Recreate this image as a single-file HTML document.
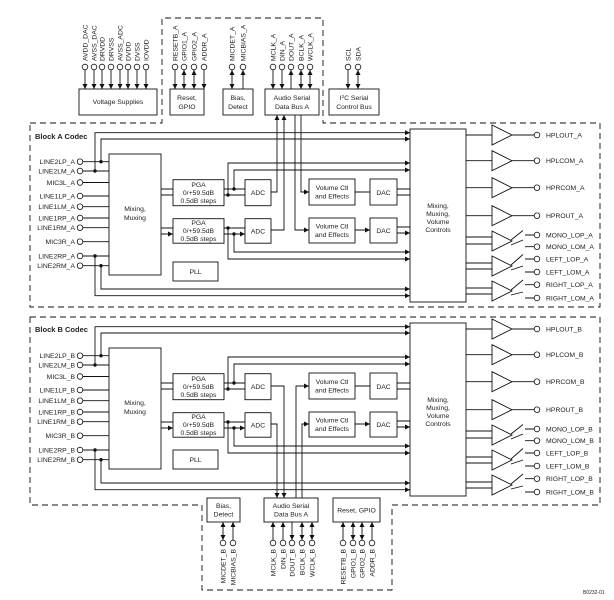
<!DOCTYPE html>
<html><head><meta charset="utf-8"><style>
html,body{margin:0;padding:0;background:#fff;}
svg{display:block;font-family:"Liberation Sans",sans-serif;}
text{font-size:6.8px;fill:#222;}
.l{stroke:#111;stroke-width:0.9;fill:none;}
.b{stroke:#111;stroke-width:0.9;fill:#fff;}
.d{stroke:#111;stroke-width:0.9;fill:none;stroke-dasharray:6,4;}
.p{stroke:#111;stroke-width:0.8;fill:#fff;}
.a{marker-end:url(#ar);}
.aa{marker-end:url(#ar);marker-start:url(#ar);}
.s{marker-start:url(#ar);}
</style></head><body>
<svg width="614" height="600" viewBox="0 0 614 600" xmlns="http://www.w3.org/2000/svg">
<defs>
<marker id="ar" viewBox="0 0 6 6" refX="6" refY="3" markerUnits="userSpaceOnUse" markerWidth="5" markerHeight="5" orient="auto-start-reverse"><path d="M0,0L6,3L0,6z" fill="#111"/></marker>
</defs>
<rect width="614" height="600" fill="#fff"/>

<!-- ===== Top section ===== -->
<path class="d" d="M30,123H162V18H323V123H600V307H30Z"/>
<rect class="b" x="79" y="89" width="78" height="26"/>
<text x="118" y="104" text-anchor="middle">Voltage Supplies</text>
<rect class="b" x="170" y="89" width="34" height="26"/>
<text x="187" y="100" text-anchor="middle">Reset,</text><text x="187" y="109" text-anchor="middle">GPIO</text>
<rect class="b" x="223" y="89" width="30" height="26"/>
<text x="238" y="100" text-anchor="middle">Bias,</text><text x="238" y="109" text-anchor="middle">Detect</text>
<rect class="b" x="265" y="89" width="54" height="26"/>
<text x="292" y="100" text-anchor="middle">Audio Serial</text><text x="292" y="109" text-anchor="middle">Data Bus A</text>
<rect class="b" x="329" y="89" width="50" height="26"/>
<text x="354" y="100" text-anchor="middle">I<tspan font-size="4.5" dy="-2">2</tspan><tspan dy="2">C Serial</tspan></text><text x="354" y="109" text-anchor="middle">Control Bus</text>

<!-- top pins -->
<g>
<path class="l a" d="M85,70V89"/><path class="l a" d="M94,70V89"/><path class="l a" d="M102,70V89"/><path class="l a" d="M111,70V89"/>
<path class="l a" d="M120,70V89"/><path class="l a" d="M128,70V89"/><path class="l a" d="M137,70V89"/><path class="l a" d="M146,70V89"/>
<path class="l a" d="M175,70V89"/><path class="l aa" d="M184,70V89"/><path class="l aa" d="M194,70V89"/><path class="l a" d="M204,70V89"/>
<path class="l aa" d="M232,70V89"/><path class="l s" d="M243,70V89"/>
<path class="l a" d="M273,70V89"/><path class="l a" d="M282,70V89"/><path class="l s" d="M291,70V89"/><path class="l aa" d="M301,70V89"/><path class="l aa" d="M310,70V89"/>
<path class="l a" d="M348,70V89"/><path class="l aa" d="M358,70V89"/>
<g class="p">
<circle cx="85" cy="67" r="2.8"/><circle cx="94" cy="67" r="2.8"/><circle cx="102" cy="67" r="2.8"/><circle cx="111" cy="67" r="2.8"/>
<circle cx="120" cy="67" r="2.8"/><circle cx="128" cy="67" r="2.8"/><circle cx="137" cy="67" r="2.8"/><circle cx="146" cy="67" r="2.8"/>
<circle cx="175" cy="67" r="2.8"/><circle cx="184" cy="67" r="2.8"/><circle cx="194" cy="67" r="2.8"/><circle cx="204" cy="67" r="2.8"/>
<circle cx="232" cy="67" r="2.8"/><circle cx="243" cy="67" r="2.8"/>
<circle cx="273" cy="67" r="2.8"/><circle cx="282" cy="67" r="2.8"/><circle cx="291" cy="67" r="2.8"/><circle cx="301" cy="67" r="2.8"/><circle cx="310" cy="67" r="2.8"/>
<circle cx="348" cy="67" r="2.8"/><circle cx="358" cy="67" r="2.8"/>
</g>
<text transform="translate(87.5,61) rotate(-90)">AVDD_DAC</text>
<text transform="translate(96.5,61) rotate(-90)">AVSS_DAC</text>
<text transform="translate(104.5,61) rotate(-90)">DRVDD</text>
<text transform="translate(113.5,61) rotate(-90)">DRVSS</text>
<text transform="translate(122.5,61) rotate(-90)">AVSS_ADC</text>
<text transform="translate(130.5,61) rotate(-90)">DVDD</text>
<text transform="translate(139.5,61) rotate(-90)">DVSS</text>
<text transform="translate(148.5,61) rotate(-90)">IOVDD</text>
<text transform="translate(177.5,61) rotate(-90)">RESETB_A</text>
<text transform="translate(186.5,61) rotate(-90)">GPIO1_A</text>
<text transform="translate(196.5,61) rotate(-90)">GPIO2_A</text>
<text transform="translate(206.5,61) rotate(-90)">ADDR_A</text>
<text transform="translate(234.5,61) rotate(-90)">MICDET_A</text>
<text transform="translate(245.5,61) rotate(-90)">MICBIAS_A</text>
<text transform="translate(275.5,61) rotate(-90)">MCLK_A</text>
<text transform="translate(284.5,61) rotate(-90)">DIN_A</text>
<text transform="translate(293.5,61) rotate(-90)">DOUT_A</text>
<text transform="translate(303.5,61) rotate(-90)">BCLK_A</text>
<text transform="translate(312.5,61) rotate(-90)">WCLK_A</text>
<text transform="translate(350.5,61) rotate(-90)">SCL</text>
<text transform="translate(360.5,61) rotate(-90)">SDA</text>
</g>

<!-- ===== Block A ===== -->
<g>
<text x="35" y="139" font-weight="bold" style="font-size:7.5px">Block A Codec</text>
<g text-anchor="end">
<text x="75" y="164">LINE2LP_A</text><text x="75" y="173.5">LINE2LM_A</text><text x="75" y="185">MIC3L_A</text>
<text x="75" y="198.5">LINE1LP_A</text><text x="75" y="209">LINE1LM_A</text><text x="75" y="220.5">LINE1RP_A</text>
<text x="75" y="230">LINE1RM_A</text><text x="75" y="244">MIC3R_A</text><text x="75" y="258.5">LINE2RP_A</text><text x="75" y="268">LINE2RM_A</text>
</g>
<path class="l" d="M83,161.7H109M83,171H109M83,182.5H109M83,196H109M83,206.7H109M83,218H109M83,227.7H109M83,241.7H109M83,256H109M83,265.7H109"/>
<g class="p"><circle cx="80" cy="161.7" r="2.8"/><circle cx="80" cy="171" r="2.8"/><circle cx="80" cy="182.5" r="2.8"/><circle cx="80" cy="196" r="2.8"/><circle cx="80" cy="206.7" r="2.8"/><circle cx="80" cy="218" r="2.8"/><circle cx="80" cy="227.7" r="2.8"/><circle cx="80" cy="241.7" r="2.8"/><circle cx="80" cy="256" r="2.8"/><circle cx="80" cy="265.7" r="2.8"/></g>
<path class="l a" d="M101,161.7V139H410"/><path class="l a" d="M95,171V132.7H410"/>
<path class="l a" d="M95,256V295.7H410"/><path class="l a" d="M101,265.7V289H410"/>
<g fill="#111"><circle cx="101" cy="161.7" r="1.7"/><circle cx="95" cy="171" r="1.7"/><circle cx="95" cy="256" r="1.7"/><circle cx="101" cy="265.7" r="1.7"/>
<circle cx="234" cy="189" r="1.7"/><circle cx="228" cy="195" r="1.7"/><circle cx="228" cy="228" r="1.7"/><circle cx="234" cy="234" r="1.7"/></g>
<rect class="b" x="109" y="154" width="52" height="121"/>
<text x="135" y="211" text-anchor="middle">Mixing,</text><text x="135" y="220" text-anchor="middle">Muxing</text>
<path class="l a" d="M161,189H173M161,195H173M161,228H173M161,234H173"/>
<rect class="b" x="173" y="179.7" width="51" height="26"/>
<text x="198.5" y="187" text-anchor="middle">PGA</text><text x="198.5" y="195" text-anchor="middle">0/+59.5dB</text><text x="198.5" y="203" text-anchor="middle">0.5dB steps</text>
<rect class="b" x="173" y="218.7" width="51" height="24.5"/>
<text x="198.5" y="225" text-anchor="middle">PGA</text><text x="198.5" y="233" text-anchor="middle">0/+59.5dB</text><text x="198.5" y="241" text-anchor="middle">0.5dB steps</text>
<rect class="b" x="173" y="262" width="45" height="19"/><text x="195.5" y="274" text-anchor="middle">PLL</text>
<path class="l a" d="M224,189H245M224,195H245M224,228H245M224,234H245"/>
<path class="l a" d="M228,195V163H410"/><path class="l a" d="M234,189V170H410"/>
<path class="l a" d="M228,228V259H410"/><path class="l a" d="M234,234V252H410"/>
<rect class="b" x="245" y="179.7" width="26" height="26"/><text x="258" y="195" text-anchor="middle">ADC</text>
<rect class="b" x="245" y="218.7" width="26" height="24.5"/><text x="258" y="233.5" text-anchor="middle">ADC</text>
<path class="l a" d="M271,192H277V115"/><path class="l a" d="M271,230H284V115"/>
<path class="l a" d="M301,115V192H309"/><path class="l a" d="M295,115V230H309"/>
<rect class="b" x="309" y="179" width="46" height="26"/><text x="332" y="190" text-anchor="middle">Volume Ctl</text><text x="332" y="198.5" text-anchor="middle">and Effects</text>
<rect class="b" x="309" y="218" width="46" height="25"/><text x="332" y="228.5" text-anchor="middle">Volume Ctl</text><text x="332" y="237" text-anchor="middle">and Effects</text>
<path class="l a" d="M355,192H370M355,230H370"/>
<rect class="b" x="370" y="179" width="27" height="26"/><text x="383.5" y="195" text-anchor="middle">DAC</text>
<rect class="b" x="370" y="218" width="27" height="25"/><text x="383.5" y="233" text-anchor="middle">DAC</text>
<path class="l a" d="M397,189H410M397,195H410M397,227H410M397,233H410"/>
<rect class="b" x="410" y="129" width="56" height="173"/>
<text x="438" y="208" text-anchor="middle">Mixing,</text><text x="438" y="216" text-anchor="middle">Muxing,</text><text x="438" y="224" text-anchor="middle">Volume</text><text x="438" y="232" text-anchor="middle">Controls</text>
<path class="l" d="M466,135H492M466,160.7H492M466,187.7H492M466,215.7H492M512,135H534M512,160.7H534M512,187.7H534M512,215.7H534M466,237H492M466,244H492M466,263H492M466,269H492M466,288H492M466,294H492"/>
<g class="b"><polygon points="492,125 512,135 492,145"/><polygon points="492,150.7 512,160.7 492,170.7"/><polygon points="492,177.7 512,187.7 492,197.7"/><polygon points="492,205.7 512,215.7 492,225.7"/>
<polygon points="492,231 512,241 492,251"/><polygon points="492,256 512,266 492,276"/><polygon points="492,281 512,291 492,301"/></g>
<path class="l" d="M511,240L523,230.5M525,235H534M511,245L523,240M525,246.7H534M511,265L523,254.5M525,259H534M511,270L523,266M525,272H534M511,290L523,280M525,284.7H534M511,295L523,292M525,298H534"/>
<g class="p"><circle cx="537" cy="135" r="2.8"/><circle cx="537" cy="160.7" r="2.8"/><circle cx="537" cy="187.7" r="2.8"/><circle cx="537" cy="215.7" r="2.8"/>
<circle cx="537" cy="235" r="2.8"/><circle cx="537" cy="246.7" r="2.8"/><circle cx="537" cy="259" r="2.8"/><circle cx="537" cy="272" r="2.8"/><circle cx="537" cy="284.7" r="2.8"/><circle cx="537" cy="298" r="2.8"/></g>
<text x="546" y="137.5">HPLOUT_A</text><text x="546" y="163">HPLCOM_A</text><text x="546" y="190">HPRCOM_A</text><text x="546" y="218">HPROUT_A</text>
<text x="546" y="237.5">MONO_LOP_A</text><text x="546" y="249">MONO_LOM_A</text><text x="546" y="261.5">LEFT_LOP_A</text><text x="546" y="274.5">LEFT_LOM_A</text><text x="546" y="287">RIGHT_LOP_A</text><text x="546" y="300.5">RIGHT_LOM_A</text>
</g>

<!-- ===== Block B ===== -->
<path class="d" d="M30,317H600V505H392V590H202V505H30Z"/>
<g transform="translate(0,194)">
<text x="35" y="138" font-weight="bold" style="font-size:7.5px">Block B Codec</text>
<g text-anchor="end">
<text x="75" y="164">LINE2LP_B</text><text x="75" y="173.5">LINE2LM_B</text><text x="75" y="185">MIC3L_B</text>
<text x="75" y="198.5">LINE1LP_B</text><text x="75" y="209">LINE1LM_B</text><text x="75" y="220.5">LINE1RP_B</text>
<text x="75" y="230">LINE1RM_B</text><text x="75" y="244">MIC3R_B</text><text x="75" y="258.5">LINE2RP_B</text><text x="75" y="268">LINE2RM_B</text>
</g>
<path class="l" d="M83,161.7H109M83,171H109M83,182.5H109M83,196H109M83,206.7H109M83,218H109M83,227.7H109M83,241.7H109M83,256H109M83,265.7H109"/>
<g class="p"><circle cx="80" cy="161.7" r="2.8"/><circle cx="80" cy="171" r="2.8"/><circle cx="80" cy="182.5" r="2.8"/><circle cx="80" cy="196" r="2.8"/><circle cx="80" cy="206.7" r="2.8"/><circle cx="80" cy="218" r="2.8"/><circle cx="80" cy="227.7" r="2.8"/><circle cx="80" cy="241.7" r="2.8"/><circle cx="80" cy="256" r="2.8"/><circle cx="80" cy="265.7" r="2.8"/></g>
<path class="l a" d="M101,161.7V139H410"/><path class="l a" d="M95,171V132.7H410"/>
<path class="l a" d="M95,256V295.7H410"/><path class="l a" d="M101,265.7V289H410"/>
<g fill="#111"><circle cx="101" cy="161.7" r="1.7"/><circle cx="95" cy="171" r="1.7"/><circle cx="95" cy="256" r="1.7"/><circle cx="101" cy="265.7" r="1.7"/>
<circle cx="234" cy="189" r="1.7"/><circle cx="228" cy="195" r="1.7"/><circle cx="228" cy="228" r="1.7"/><circle cx="234" cy="234" r="1.7"/></g>
<rect class="b" x="109" y="154" width="52" height="121"/>
<text x="135" y="211" text-anchor="middle">Mixing,</text><text x="135" y="220" text-anchor="middle">Muxing</text>
<path class="l a" d="M161,189H173M161,195H173M161,228H173M161,234H173"/>
<rect class="b" x="173" y="179.7" width="51" height="26"/>
<text x="198.5" y="187" text-anchor="middle">PGA</text><text x="198.5" y="195" text-anchor="middle">0/+59.5dB</text><text x="198.5" y="203" text-anchor="middle">0.5dB steps</text>
<rect class="b" x="173" y="218.7" width="51" height="24.5"/>
<text x="198.5" y="225" text-anchor="middle">PGA</text><text x="198.5" y="233" text-anchor="middle">0/+59.5dB</text><text x="198.5" y="241" text-anchor="middle">0.5dB steps</text>
<rect class="b" x="173" y="256" width="45" height="19"/><text x="195.5" y="268" text-anchor="middle">PLL</text>
<path class="l a" d="M224,189H245M224,195H245M224,228H245M224,234H245"/>
<path class="l a" d="M228,195V163H410"/><path class="l a" d="M234,189V170H410"/>
<path class="l a" d="M228,228V259H410"/><path class="l a" d="M234,234V252H410"/>
<rect class="b" x="245" y="179.7" width="26" height="26"/><text x="258" y="195" text-anchor="middle">ADC</text>
<rect class="b" x="245" y="218.7" width="26" height="24.5"/><text x="258" y="233.5" text-anchor="middle">ADC</text>
<path class="l a" d="M271,192H284V304"/><path class="l a" d="M271,230H277V304"/>
<path class="l a" d="M296,304V192H309"/><path class="l a" d="M302,304V230H309"/>
<rect class="b" x="309" y="179" width="46" height="26"/><text x="332" y="190" text-anchor="middle">Volume Ctl</text><text x="332" y="198.5" text-anchor="middle">and Effects</text>
<rect class="b" x="309" y="218" width="46" height="25"/><text x="332" y="228.5" text-anchor="middle">Volume Ctl</text><text x="332" y="237" text-anchor="middle">and Effects</text>
<path class="l a" d="M355,192H370M355,230H370"/>
<rect class="b" x="370" y="179" width="27" height="26"/><text x="383.5" y="195" text-anchor="middle">DAC</text>
<rect class="b" x="370" y="218" width="27" height="25"/><text x="383.5" y="233" text-anchor="middle">DAC</text>
<path class="l a" d="M397,189H410M397,195H410M397,227H410M397,233H410"/>
<rect class="b" x="410" y="129" width="56" height="173"/>
<text x="438" y="208" text-anchor="middle">Mixing,</text><text x="438" y="216" text-anchor="middle">Muxing,</text><text x="438" y="224" text-anchor="middle">Volume</text><text x="438" y="232" text-anchor="middle">Controls</text>
<path class="l" d="M466,135H492M466,160.7H492M466,187.7H492M466,215.7H492M512,135H534M512,160.7H534M512,187.7H534M512,215.7H534M466,237H492M466,244H492M466,263H492M466,269H492M466,288H492M466,294H492"/>
<g class="b"><polygon points="492,125 512,135 492,145"/><polygon points="492,150.7 512,160.7 492,170.7"/><polygon points="492,177.7 512,187.7 492,197.7"/><polygon points="492,205.7 512,215.7 492,225.7"/>
<polygon points="492,231 512,241 492,251"/><polygon points="492,256 512,266 492,276"/><polygon points="492,281 512,291 492,301"/></g>
<path class="l" d="M511,240L523,230.5M525,235H534M511,245L523,240M525,246.7H534M511,265L523,254.5M525,259H534M511,270L523,266M525,272H534M511,290L523,280M525,284.7H534M511,295L523,292M525,298H534"/>
<g class="p"><circle cx="537" cy="135" r="2.8"/><circle cx="537" cy="160.7" r="2.8"/><circle cx="537" cy="187.7" r="2.8"/><circle cx="537" cy="215.7" r="2.8"/>
<circle cx="537" cy="235" r="2.8"/><circle cx="537" cy="246.7" r="2.8"/><circle cx="537" cy="259" r="2.8"/><circle cx="537" cy="272" r="2.8"/><circle cx="537" cy="284.7" r="2.8"/><circle cx="537" cy="298" r="2.8"/></g>
<text x="546" y="137.5">HPLOUT_B</text><text x="546" y="163">HPLCOM_B</text><text x="546" y="190">HPRCOM_B</text><text x="546" y="218">HPROUT_B</text>
<text x="546" y="237.5">MONO_LOP_B</text><text x="546" y="249">MONO_LOM_B</text><text x="546" y="261.5">LEFT_LOP_B</text><text x="546" y="274.5">LEFT_LOM_B</text><text x="546" y="287">RIGHT_LOP_B</text><text x="546" y="300.5">RIGHT_LOM_B</text>
</g>

<!-- bottom section -->
<rect class="b" x="207" y="498" width="33" height="24"/>
<text x="223.5" y="508" text-anchor="middle">Bias,</text><text x="223.5" y="516.5" text-anchor="middle">Detect</text>
<rect class="b" x="264" y="498" width="54" height="24"/>
<text x="291" y="508" text-anchor="middle">Audio Serial</text><text x="291" y="516.5" text-anchor="middle">Data Bus A</text>
<rect class="b" x="333" y="498" width="47" height="24"/>
<text x="356.5" y="512.5" text-anchor="middle">Reset, GPIO</text>
<path class="l aa" d="M223,540V522"/><path class="l a" d="M233,540V522"/>
<path class="l a" d="M273,540V522"/><path class="l a" d="M283,540V522"/><path class="l s" d="M292,540V522"/><path class="l aa" d="M302,540V522"/><path class="l aa" d="M312,540V522"/>
<path class="l a" d="M343,540V522"/><path class="l aa" d="M353,540V522"/><path class="l aa" d="M362,540V522"/><path class="l a" d="M372,540V522"/>
<g class="p"><circle cx="223" cy="543" r="2.8"/><circle cx="233" cy="543" r="2.8"/>
<circle cx="273" cy="543" r="2.8"/><circle cx="283" cy="543" r="2.8"/><circle cx="292" cy="543" r="2.8"/><circle cx="302" cy="543" r="2.8"/><circle cx="312" cy="543" r="2.8"/>
<circle cx="343" cy="543" r="2.8"/><circle cx="353" cy="543" r="2.8"/><circle cx="362" cy="543" r="2.8"/><circle cx="372" cy="543" r="2.8"/></g>
<g text-anchor="end">
<text transform="translate(225.5,549) rotate(-90)">MICDET_B</text>
<text transform="translate(235.5,549) rotate(-90)">MICBIAS_B</text>
<text transform="translate(275.5,549) rotate(-90)">MCLK_B</text>
<text transform="translate(285.5,549) rotate(-90)">DIN_B</text>
<text transform="translate(294.5,549) rotate(-90)">DOUT_B</text>
<text transform="translate(304.5,549) rotate(-90)">BCLK_B</text>
<text transform="translate(314.5,549) rotate(-90)">WCLK_B</text>
<text transform="translate(345.5,549) rotate(-90)">RESETB_B</text>
<text transform="translate(355.5,549) rotate(-90)">GPIO1_B</text>
<text transform="translate(364.5,549) rotate(-90)">GPIO2_B</text>
<text transform="translate(374.5,549) rotate(-90)">ADDR_B</text>
</g>
<text x="583" y="594" style="font-size:5px">B0232-01</text>
</svg>
</body></html>
